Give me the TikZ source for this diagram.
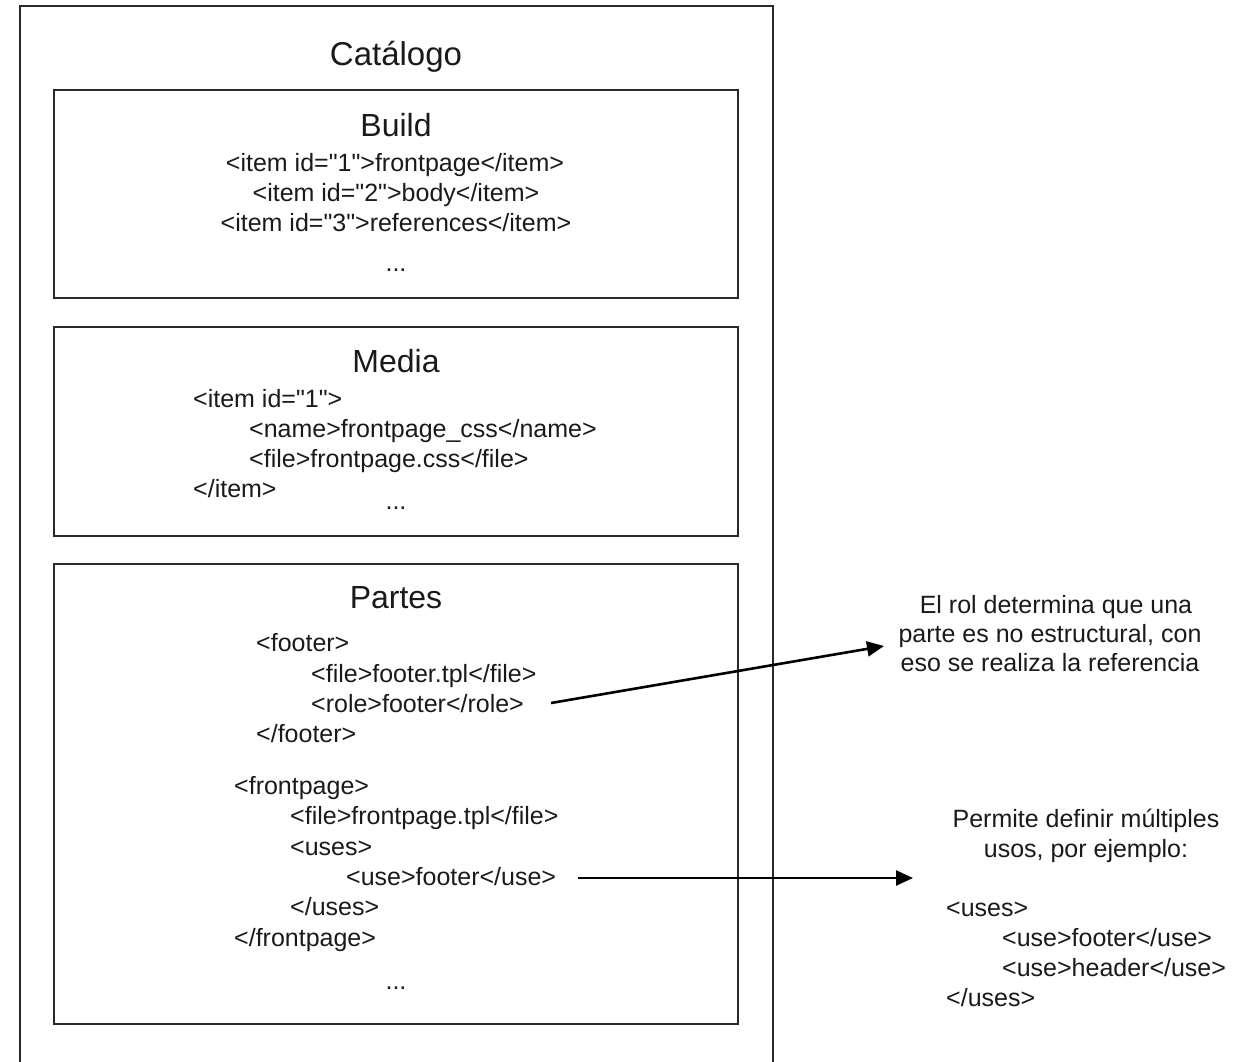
\documentclass[tikz,border=0pt]{standalone}
\usepackage{fontspec}
\setmainfont{Liberation Sans}[Ligatures=TeXOff]
\usetikzlibrary{arrows.meta}
\definecolor{ink}{HTML}{1A1A1A}
\definecolor{frame}{HTML}{2A2A2A}
\tikzset{
  boxline/.style={draw=frame, line width=1.5pt},
  ttl/.style={anchor=base, inner sep=0pt, font=\fontsize{32}{38}\selectfont, text=ink},
  bigttl/.style={anchor=base, inner sep=0pt, font=\fontsize{33}{39}\selectfont, text=ink},
  ctxt/.style={anchor=base, inner sep=0pt, font=\fontsize{25}{30}\selectfont, text=ink},
  ltxt/.style={anchor=base west, inner sep=0pt, font=\fontsize{25}{30}\selectfont, text=ink},
  arrowline/.style={draw=black, line width=2.6pt, -{Triangle[length=17pt,width=15pt]}}
}
\begin{document}
\begin{tikzpicture}[x=1pt,y=-1pt]
\useasboundingbox (0,0) rectangle (1248,1061);
\clip (0,0) rectangle (1248,1061);
% outer catalogue frame (open at the bottom of the image)
\draw[boxline] (20,6) rectangle (773,1080);
\node[bigttl] (cat) at (396,65) {Catálogo};
% Build
\draw[boxline] (54,90) rectangle (738,298);
\node[ttl] (build) at (396,136) {Build};
\node[ctxt] (b1) at (395,171) {<item id="1">frontpage</item>};
\node[ctxt] (b2) at (396,201) {<item id="2">body</item>};
\node[ctxt] (b3) at (396,231) {<item id="3">references</item>};
\node[ctxt] (b4) at (396,271) {...};
% Media
\draw[boxline] (54,327) rectangle (738,536);
\node[ttl] (media) at (396,372) {Media};
\node[ltxt] (m1) at (193,407) {<item id="1">};
\node[ltxt] (m2) at (249,437) {<name>frontpage\_css</name>};
\node[ltxt] (m3) at (249,467) {<file>frontpage.css</file>};
\node[ltxt] (m4) at (193,497) {</item>};
\node[ctxt] (m5) at (396,509) {...};
% Partes
\draw[boxline] (54,564) rectangle (738,1024);
\node[ttl] (partes) at (396,608) {Partes};
\node[ltxt] (p1) at (256,651) {<footer>};
\node[ltxt] (p2) at (311,682) {<file>footer.tpl</file>};
\node[ltxt] (p3) at (311,712) {<role>footer</role>};
\node[ltxt] (p4) at (256,742) {</footer>};
\node[ltxt] (p5) at (234,794) {<frontpage>};
\node[ltxt] (p6) at (290,824) {<file>frontpage.tpl</file>};
\node[ltxt] (p7) at (290,855) {<uses>};
\node[ltxt] (p8) at (346,885) {<use>footer</use>};
\node[ltxt] (p9) at (290,915) {</uses>};
\node[ltxt] (p10) at (234,946) {</frontpage>};
\node[ctxt] (p11) at (396,989) {...};
% notes
\node[ctxt] (n1a) at (1056,613) {El rol determina que una};
\node[ctxt] (n1b) at (1050,642) {parte es no estructural, con};
\node[ctxt] (n1c) at (1050,671) {eso se realiza la referencia};
\node[ctxt] (n2a) at (1086,827) {Permite definir múltiples};
\node[ctxt] (n2b) at (1086,857) {usos, por ejemplo:};
\node[ltxt] (n2c) at (946,916) {<uses>};
\node[ltxt] (n2d) at (1002,946) {<use>footer</use>};
\node[ltxt] (n2e) at (1002,976) {<use>header</use>};
\node[ltxt] (n2f) at (946,1006) {</uses>};
% arrows
\coordinate (a1s) at (551,703);
\coordinate (a1e) at (884,646);
\coordinate (a2s) at (578,878);
\coordinate (a2e) at (913,878);
\draw[arrowline] (a1s) -- (a1e);
\draw[arrowline] (a2s) -- (a2e);
\end{tikzpicture}
\end{document}
